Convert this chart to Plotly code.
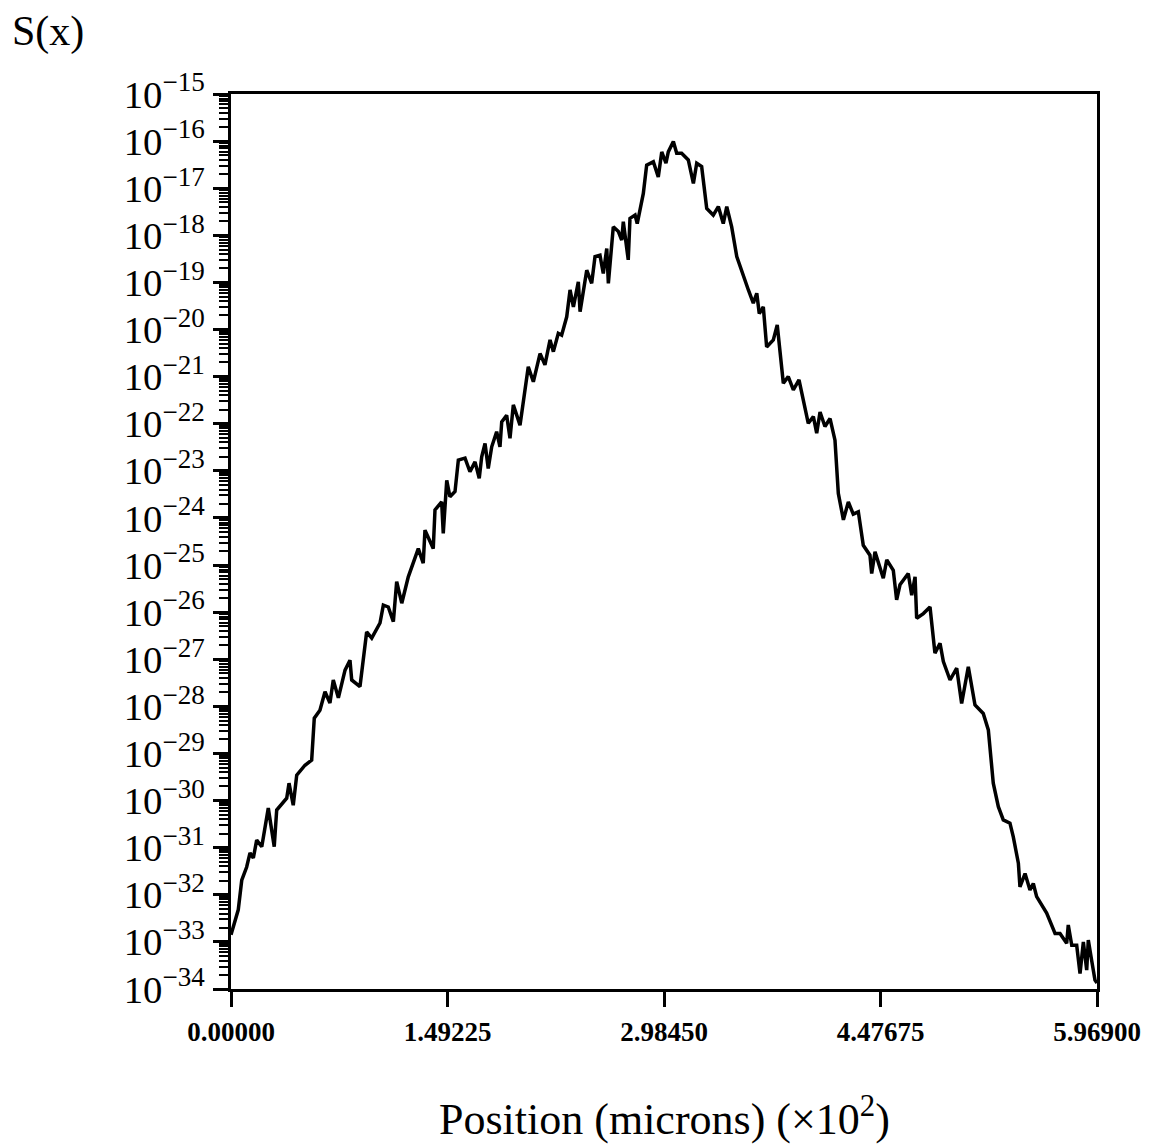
import plotly.graph_objects as go

# Position (microns) (x10^2)
position = [
    0.000, 0.050, 0.074, 0.108, 0.131, 0.154, 0.177, 0.212, 0.257, 0.298,
    0.315, 0.384, 0.400, 0.429, 0.453, 0.510, 0.556, 0.574, 0.613, 0.648,
    0.682, 0.705, 0.740, 0.786, 0.820, 0.832, 0.889, 0.935, 0.970, 1.027,
    1.050, 1.084, 1.119, 1.142, 1.177, 1.222, 1.291, 1.325, 1.337, 1.394,
    1.406, 1.452, 1.463, 1.487, 1.509, 1.544, 1.567, 1.613, 1.647, 1.682,
    1.711, 1.728, 1.751, 1.773, 1.797, 1.831, 1.854, 1.866, 1.900, 1.923,
    1.946, 1.992, 2.049, 2.084, 2.130, 2.164, 2.199, 2.222, 2.256, 2.279,
    2.314, 2.337, 2.360, 2.394, 2.406, 2.452, 2.486, 2.509, 2.543, 2.566,
    2.590, 2.601, 2.635, 2.670, 2.693, 2.704, 2.738, 2.750, 2.785, 2.800,
    2.842, 2.865, 2.911, 2.945, 2.969, 2.998, 3.014, 3.049, 3.072, 3.106,
    3.152, 3.187, 3.210, 3.244, 3.279, 3.324, 3.359, 3.393, 3.417, 3.451,
    3.486, 3.531, 3.566, 3.600, 3.624, 3.641, 3.669, 3.692, 3.738, 3.765,
    3.784, 3.807, 3.841, 3.876, 3.915, 3.934, 3.979, 4.014, 4.037, 4.060,
    4.094, 4.129, 4.163, 4.186, 4.221, 4.255, 4.289, 4.324, 4.358, 4.404,
    4.416, 4.439, 4.496, 4.520, 4.565, 4.588, 4.611, 4.668, 4.692, 4.715,
    4.726, 4.772, 4.818, 4.852, 4.887, 4.910, 4.956, 5.002, 5.036, 5.082,
    5.128, 5.185, 5.220, 5.254, 5.289, 5.323, 5.369, 5.392, 5.427, 5.438,
    5.473, 5.507, 5.530, 5.553, 5.622, 5.680, 5.714, 5.760, 5.771, 5.795,
    5.829, 5.852, 5.875, 5.898, 5.909, 5.932, 5.955, 5.969,
]

# log10 of S(x)
log10_S = [
    -32.85, -32.32, -31.69, -31.41, -31.11, -31.22, -30.84, -30.98, -30.16, -30.98,
    -30.20, -29.95, -29.63, -30.10, -29.46, -29.25, -29.14, -28.25, -28.08, -27.69,
    -27.93, -27.44, -27.82, -27.23, -27.02, -27.44, -27.58, -26.42, -26.55, -26.23,
    -25.85, -25.89, -26.20, -25.35, -25.81, -25.25, -24.65, -24.96, -24.26, -24.65,
    -23.83, -23.66, -24.33, -23.20, -23.55, -23.44, -22.77, -22.73, -23.02, -22.81,
    -23.16, -22.70, -22.42, -22.95, -22.49, -22.17, -22.49, -21.96, -21.82, -22.31,
    -21.60, -22.03, -20.79, -21.11, -20.51, -20.75, -20.22, -20.47, -20.08, -20.12,
    -19.73, -19.16, -19.52, -18.99, -19.62, -18.74, -19.02, -18.45, -18.42, -18.81,
    -18.28, -19.02, -17.82, -17.92, -18.10, -17.71, -18.52, -17.64, -17.57, -17.75,
    -17.11, -16.51, -16.44, -16.76, -16.23, -16.47, -16.23, -16.01, -16.26, -16.26,
    -16.40, -16.90, -16.47, -16.54, -17.43, -17.57, -17.39, -17.75, -17.39, -17.82,
    -18.45, -18.88, -19.16, -19.44, -19.23, -19.66, -19.52, -20.37, -20.22, -19.90,
    -20.44, -21.14, -21.00, -21.28, -21.07, -21.35, -21.99, -21.85, -22.20, -21.75,
    -22.06, -21.89, -22.35, -23.48, -24.04, -23.66, -23.92, -23.87, -24.58, -24.79,
    -25.18, -24.72, -25.28, -24.89, -25.11, -25.74, -25.42, -25.18, -25.64, -25.25,
    -26.13, -26.03, -25.89, -26.87, -26.66, -27.05, -27.44, -27.19, -27.94, -27.16,
    -27.97, -28.15, -28.50, -29.63, -30.13, -30.41, -30.48, -30.77, -31.33, -31.83,
    -31.55, -31.90, -31.76, -32.04, -32.39, -32.82, -32.82, -33.03, -32.64, -33.07,
    -33.07, -33.67, -33.00, -33.60, -32.96, -33.39, -33.81, -33.87,
]

x_tick_vals = [0.0, 1.49225, 2.98450, 4.47675, 5.96900]
x_tick_text = ["0.00000", "1.49225", "2.98450", "4.47675", "5.96900"]

S = [10 ** v for v in log10_S]

FONT = "Liberation Serif"

fig = go.Figure()
fig.add_trace(go.Scatter(
    x=position, y=S, mode="lines",
    line=dict(color="black", width=3.5),
    showlegend=False,
))

fig.update_layout(
    width=1166, height=1146,
    margin=dict(l=231, r=69, t=94, b=157),
    paper_bgcolor="white", plot_bgcolor="white",
    font=dict(family=FONT, color="black"),
    xaxis=dict(
        range=[0, 5.969],
        tickmode="array", tickvals=x_tick_vals, ticktext=x_tick_text,
        ticks="outside", ticklen=15, tickwidth=3, tickcolor="black",
        tickfont=dict(family=FONT, size=27, color="black", weight="bold"),
        ticklabelstandoff=2,
        showline=True, linewidth=3, linecolor="black", mirror=True,
        showgrid=False, zeroline=False,
    ),
    yaxis=dict(
        type="log",
        range=[-34, -15],
        dtick=1,
        exponentformat="power",
        ticks="outside", ticklen=15, tickwidth=3, tickcolor="black",
        tickfont=dict(family=FONT, size=31, color="black"),
        ticklabelstandoff=2,
        minor=dict(ticks="outside", ticklen=9, tickwidth=2, tickcolor="black",
                   showgrid=False),
        showline=True, linewidth=3, linecolor="black", mirror=True,
        showgrid=False, zeroline=False,
    ),
)

fig.add_annotation(
    text="S(x)", xref="paper", yref="paper",
    x=-0.255, y=1.07, xanchor="left", yanchor="middle",
    showarrow=False, font=dict(family=FONT, size=42, color="black"),
)
fig.add_annotation(
    text="Position (microns) (\u00d710<sup>2</sup>)", xref="paper", yref="paper",
    x=0.5, y=-0.142, xanchor="center", yanchor="middle",
    showarrow=False, font=dict(family=FONT, size=44, color="black"),
)

fig.write_html("out.html")
